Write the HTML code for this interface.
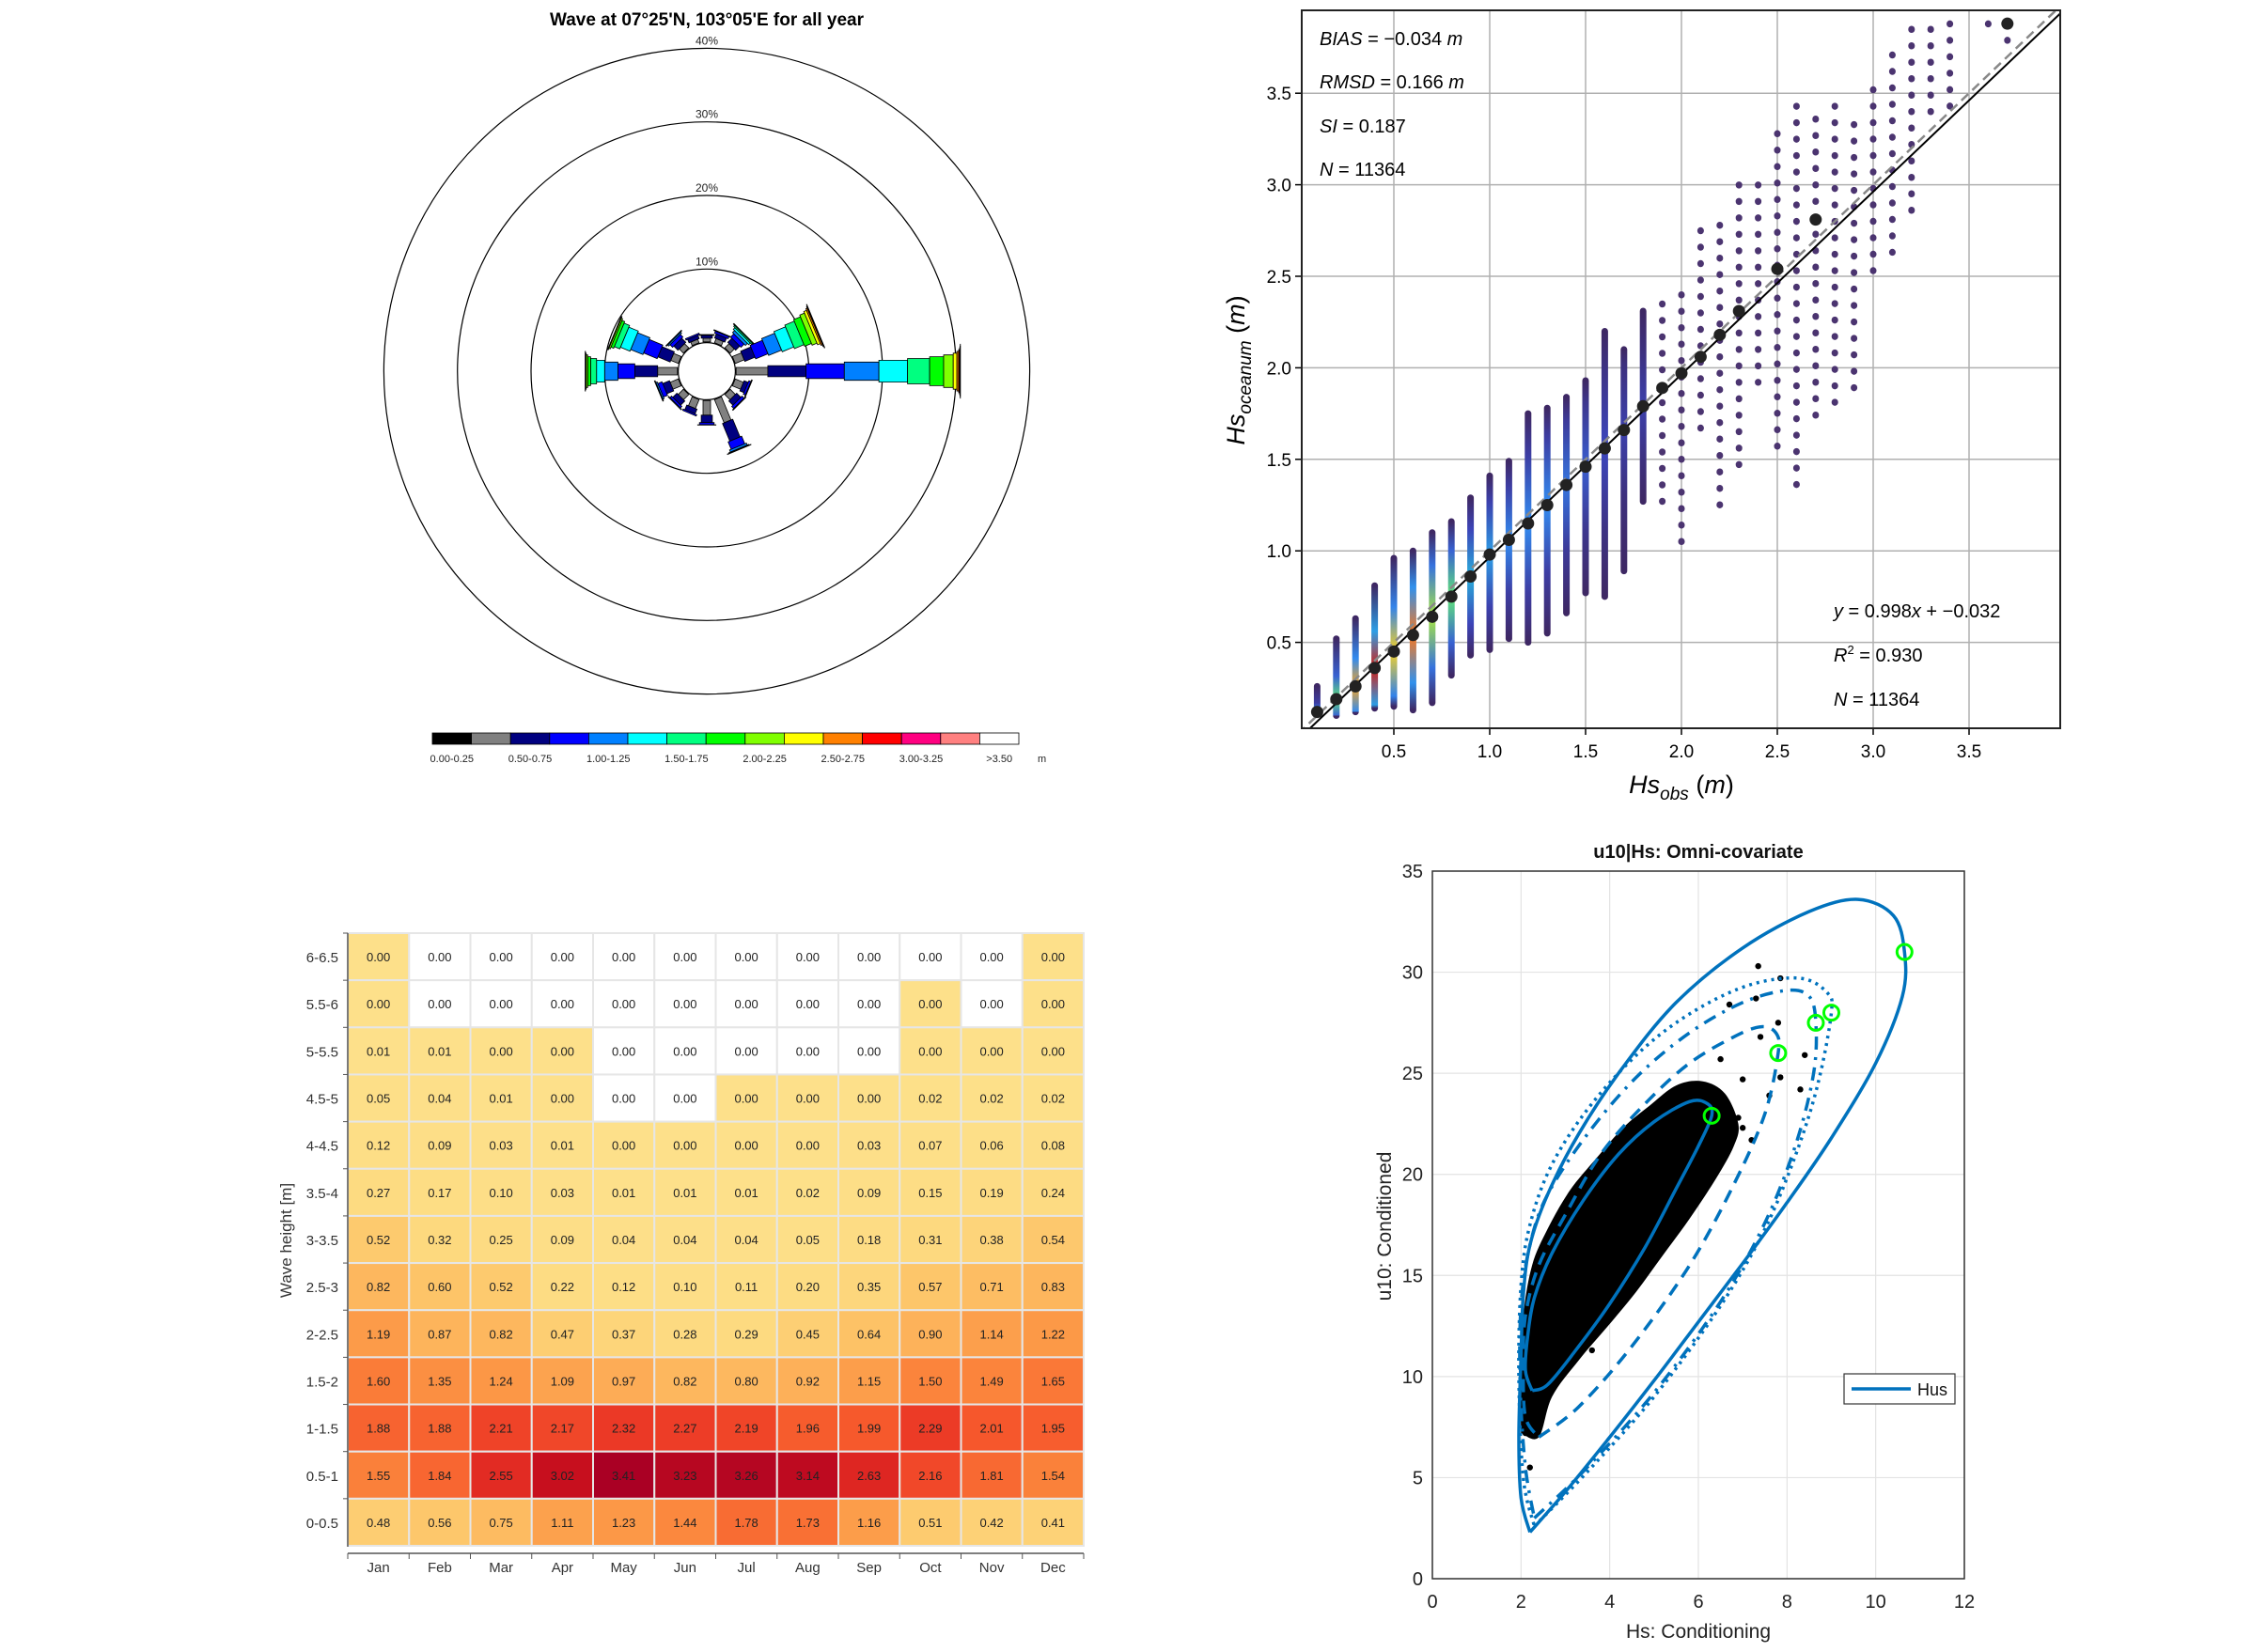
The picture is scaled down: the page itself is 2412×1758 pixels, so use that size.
<!DOCTYPE html>
<html><head><meta charset="utf-8">
<style>
html,body{margin:0;padding:0;background:#fff;}
svg{display:block;font-family:"Liberation Sans",sans-serif;}
</style></head>
<body>
<svg id="root" width="2412" height="1758" viewBox="0 0 2412 1758" xmlns="http://www.w3.org/2000/svg">
<rect x="0" y="0" width="2412" height="1758" fill="#fff"/>
</svg>
<script>
// ===== Wave rose data =====
const roseDirs = [0,22.5,45,67.5,90,112.5,135,157.5,180,202.5,225,247.5,270,292.5,315,337.5];
const roseClassLabels = ["0.00-0.25","0.25-0.50","0.50-0.75","0.75-1.00","1.00-1.25","1.25-1.50","1.50-1.75","1.75-2.00","2.00-2.25","2.25-2.50","2.50-2.75","2.75-3.00","3.00-3.25","3.25-3.50",">3.50"];
const roseColors = ['#000000','#808080','#000080','#0000ff','#0080ff','#00ffff','#00ff80','#00ff00','#80ff00','#ffff00','#ff8000','#ff0000','#ff0080','#ff8080','#ffffff'];
const roseN   = [0.1,0.5,0.4,0.1];
const roseNNE = [0.1,0.6,0.6,0.3,0.1];
const roseNE  = [0.1,0.8,0.8,0.6,0.4,0.3,0.2,0.1];
const roseENE = [0.1,1.3,1.5,1.8,1.9,1.7,1.4,1.0,0.7,0.4,0.2,0.1,0.05];
const roseE   = [0.1,4.3,5.2,5.2,4.7,3.9,3.0,1.9,1.3,0.5,0.25,0.12,0.06,0.03,0.02];
const roseESE = [0.1,1.2,0.6,0.3,0.1];
const roseSE  = [0.1,1.0,0.8,0.4,0.1];
const roseSSE = [0.1,3.4,2.6,1.1,0.3,0.1,0.05];
const roseS   = [0.1,2.0,1.0,0.3,0.05];
const roseSSW = [0.1,1.3,0.7,0.2];
const roseSW  = [0.1,1.0,0.8,0.3,0.1];
const roseWSW = [0.1,1.2,1.0,0.6,0.2,0.1];
const roseW   = [0.1,2.7,3.1,2.3,1.8,1.1,0.8,0.4,0.2,0.1,0.05];
const roseWNW = [0.1,1.1,1.8,2.0,1.8,1.4,0.8,0.4,0.2,0.1];
const roseNW  = [0.1,0.8,0.8,0.5,0.2,0.1];
const roseNNW = [0.1,0.5,0.5,0.2];
const roseRings = [10,20,30,40];

// ===== Scatter (Hs obs vs oceanum) data =====
const scX    = [0.1,0.2,0.3,0.4,0.5,0.6,0.7,0.8,0.9,1.0,1.1,1.2,1.3,1.4,1.5,1.6,1.7,1.8,1.9,2.0,2.1,2.2,2.3,2.4,2.5,2.6,2.7,2.8,2.9,3.0,3.1,3.2,3.3,3.4,3.6,3.7];
const scLo   = [0.12,0.10,0.12,0.14,0.15,0.13,0.17,0.32,0.43,0.46,0.52,0.50,0.55,0.66,0.77,0.75,0.89,1.27,1.21,1.03,1.62,1.18,1.40,1.92,1.51,1.34,1.67,1.75,1.89,2.51,2.63,2.79,3.34,3.37,3.87,3.78];
const scHi   = [0.26,0.52,0.63,0.81,0.96,1.00,1.10,1.16,1.29,1.41,1.49,1.75,1.78,1.84,1.93,2.20,2.10,2.31,2.35,2.40,2.75,2.78,3.00,3.00,3.28,3.43,3.36,3.43,3.33,3.52,3.71,3.85,3.85,3.88,3.88,3.88];
const scMean = [0.12,0.19,0.26,0.36,0.45,0.54,0.64,0.75,0.86,0.98,1.06,1.15,1.25,1.36,1.46,1.56,1.66,1.79,1.89,1.97,2.06,2.18,2.31,null,2.54,null,2.81,null,null,null,null,null,null,null,null,3.88];
const scDens = [0.3,0.6,0.85,1.0,0.8,0.9,0.7,0.6,0.4,0.35,0.3,0.3,0.3,0.25,0.2,0.15,0.12,0.12,0.1,0.1,0.08,0.08,0.06,0.05,0.04,0.03,0.03,0.03,0.02,0.02,0.02,0.02,0.02,0.02,0.02,0.02];
const scXTicks = [0.5,1.0,1.5,2.0,2.5,3.0,3.5];
const scYTicks = [0.5,1.0,1.5,2.0,2.5,3.0,3.5];
const fitSlope = 0.998, fitIntercept = -0.032;

// ===== Heatmap data =====
const hmMonths = ["Jan","Feb","Mar","Apr","May","Jun","Jul","Aug","Sep","Oct","Nov","Dec"];
const hmRows = ["6-6.5","5.5-6","5-5.5","4.5-5","4-4.5","3.5-4","3-3.5","2.5-3","2-2.5","1.5-2","1-1.5","0.5-1","0-0.5"];
const hmVals = [
 [0.00,0.00,0.00,0.00,0.00,0.00,0.00,0.00,0.00,0.00,0.00,0.00],
 [0.00,0.00,0.00,0.00,0.00,0.00,0.00,0.00,0.00,0.00,0.00,0.00],
 [0.01,0.01,0.00,0.00,0.00,0.00,0.00,0.00,0.00,0.00,0.00,0.00],
 [0.05,0.04,0.01,0.00,0.00,0.00,0.00,0.00,0.00,0.02,0.02,0.02],
 [0.12,0.09,0.03,0.01,0.00,0.00,0.00,0.00,0.03,0.07,0.06,0.08],
 [0.27,0.17,0.10,0.03,0.01,0.01,0.01,0.02,0.09,0.15,0.19,0.24],
 [0.52,0.32,0.25,0.09,0.04,0.04,0.04,0.05,0.18,0.31,0.38,0.54],
 [0.82,0.60,0.52,0.22,0.12,0.10,0.11,0.20,0.35,0.57,0.71,0.83],
 [1.19,0.87,0.82,0.47,0.37,0.28,0.29,0.45,0.64,0.90,1.14,1.22],
 [1.60,1.35,1.24,1.09,0.97,0.82,0.80,0.92,1.15,1.50,1.49,1.65],
 [1.88,1.88,2.21,2.17,2.32,2.27,2.19,1.96,1.99,2.29,2.01,1.95],
 [1.55,1.84,2.55,3.02,3.41,3.23,3.26,3.14,2.63,2.16,1.81,1.54],
 [0.48,0.56,0.75,1.11,1.23,1.44,1.78,1.73,1.16,0.51,0.42,0.41]];
const hmHas = [
 [1,0,0,0,0,0,0,0,0,0,0,1],
 [1,0,0,0,0,0,0,0,0,1,0,1],
 [1,1,1,1,0,0,0,0,0,1,1,1],
 [1,1,1,1,0,0,1,1,1,1,1,1],
 [1,1,1,1,1,1,1,1,1,1,1,1],[1,1,1,1,1,1,1,1,1,1,1,1],[1,1,1,1,1,1,1,1,1,1,1,1],
 [1,1,1,1,1,1,1,1,1,1,1,1],[1,1,1,1,1,1,1,1,1,1,1,1],[1,1,1,1,1,1,1,1,1,1,1,1],
 [1,1,1,1,1,1,1,1,1,1,1,1],[1,1,1,1,1,1,1,1,1,1,1,1],[1,1,1,1,1,1,1,1,1,1,1,1]];

// ===== Contour chart data =====
const ctXTicks = [0,2,4,6,8,10,12];
const ctYTicks = [0,5,10,15,20,25,30,35];
const ctOuterHs  = [2.2,3.0,4.0,5.0,6.0,7.0,8.0,9.0,10.0,10.6,10.65,10.4,9.6,8.5,7.0,5.5,4.3,3.3,2.6,2.2,2.05,2.0,1.95,2.0,2.2];
const ctOuterU   = [2.3,4.3,7.0,9.8,12.7,15.6,18.6,21.8,25.5,28.8,31.0,32.8,33.6,33.0,31.2,28.5,25.3,22.0,19.0,16.5,14.0,11.0,7.0,4.0,2.3];
const ctInnerHs  = [2.25,2.6,3.2,4.0,4.8,5.5,6.0,6.3,6.2,5.8,5.0,4.2,3.4,2.7,2.3,2.15,2.1,2.25];
const ctInnerU   = [9.3,9.6,11.2,13.6,16.4,19.3,21.4,22.9,23.5,23.6,22.6,21.0,18.7,16.1,13.9,12.0,10.3,9.3];
const ctDotHs    = [2.3,3.5,5.0,6.5,7.5,8.2,8.7,9.0,8.9,8.3,7.2,6.0,4.8,3.6,2.7,2.2,2.0,1.95,2.05,2.3];
const ctDotU     = [2.6,5.3,9.0,13.5,17.3,21.0,24.5,28.0,29.0,29.7,29.4,28.2,26.3,23.5,20.5,17.5,14.5,10.0,5.0,2.6];
const ctDashHs   = [2.3,3.4,5.0,6.5,7.5,8.2,8.6,8.65,8.5,8.0,7.0,5.8,4.6,3.5,2.6,2.2,2.0,1.98,2.1,2.3];
const ctDashU    = [3.0,5.3,9.2,13.7,17.6,21.5,25.0,27.5,28.8,29.1,28.5,27.0,24.8,22.0,19.0,16.5,13.5,9.5,5.5,3.0];
const ctDash2Hs  = [2.4,3.3,4.5,5.8,6.8,7.5,7.8,7.75,7.4,6.8,5.8,4.8,3.8,3.0,2.4,2.1,2.05,2.1,2.4];
const ctDash2U   = [7.0,8.5,11.5,15.5,19.5,23.0,26.0,27.0,27.3,26.8,25.5,23.5,21.0,18.0,15.5,13.0,10.5,8.0,7.0];
const ctMarkHs   = [6.3,7.8,8.65,9.0,10.65];
const ctMarkU    = [22.9,26.0,27.5,28.0,31.0];
const ctCloudHs  = [2.0,2.4,2.7,3.3,4.0,4.6,5.2,5.8,6.4,6.8,6.9,6.6,6.1,5.5,4.9,4.3,3.7,3.1,2.6,2.25,2.05,1.98];
const ctCloudU   = [7.2,7.0,9.0,10.8,12.6,14.2,16.0,17.8,19.8,21.4,22.5,24.0,24.6,24.4,23.4,22.3,20.8,19.2,17.3,15.5,13.0,10.0];
const ctOutHs    = [7.35,7.85,7.3,6.7,7.4,7.8,8.4,8.3,7.6,7.0,6.9,6.4,6.3,7.2,7.85,2.2,2.4,3.6,2.5,2.1,7.0,6.5];
const ctOutU     = [30.3,29.7,28.7,28.4,26.8,27.5,25.9,24.2,23.9,24.7,22.8,21.5,19.8,21.7,24.8,5.5,8.3,11.3,9.0,7.2,22.3,25.7];

const NS = "http://www.w3.org/2000/svg";
const root = document.getElementById('root');
function mk(tag, attrs, parent){
  const e = document.createElementNS(NS, tag);
  for (const k in attrs) e.setAttribute(k, attrs[k]);
  (parent||root).appendChild(e);
  return e;
}
function txt(x,y,s,attrs,parent){
  const t = mk('text', Object.assign({x:x,y:y},attrs), parent);
  t.textContent = s;
  return t;
}

// ================= ROSE =================
(function(){
  const g = mk('g',{});
  
  
  const cx=752, cy=395, r0=30.4, k=7.83;
  const rr = p => r0 + k*p;
  const t = txt(cx,27,"Wave at 07°25'N, 103°05'E for all year",{'text-anchor':'middle','font-size':19,'font-weight':'bold'},g);
  
  
  roseRings.forEach(p=>{
    const c = mk('circle',{cx:cx,cy:cy,r:rr(p),fill:'none',stroke:'#000','stroke-width':1.2},g);
    
    
    const l = txt(cx, cy-rr(p)-4, p+'%',{'text-anchor':'middle','font-size':12,fill:'#222'},g);
    
    
  });
  const hole = mk('circle',{cx:cx,cy:cy,r:r0,fill:'#fff',stroke:'#000','stroke-width':1.2},g);
  
  
  const sets = [roseN,roseNNE,roseNE,roseENE,roseE,roseESE,roseSE,roseSSE,roseS,roseSSW,roseSW,roseWSW,roseW,roseWNW,roseNW,roseNNW];
  roseDirs.forEach((d,i)=>{
    const a = d*Math.PI/180, ux=Math.sin(a), uy=-Math.cos(a), px=-uy, py=ux;
    let cum=0;
    sets[i].forEach((p,c)=>{
      const ra=rr(cum), rb=rr(cum+p); cum+=p;
      const w = (c===0?4:8+3.8*(c-1))/2;
      const pts=[[ra,-w],[rb,-w],[rb,w],[ra,w]].map(q=>(cx+ux*q[0]+px*q[1]).toFixed(1)+','+(cy+uy*q[0]+py*q[1]).toFixed(1)).join(' ');
      const s = mk('polygon',{points:pts,fill:roseColors[c],stroke:'#000','stroke-width':0.8},g);
      
      
    });
  });
  const x0=460, x1=1084, y0=780, h=12, sw=(x1-x0)/15;
  roseColors.forEach((col,i)=>{
    const r = mk('rect',{x:x0+i*sw,y:y0,width:sw,height:h,fill:col,stroke:'#000','stroke-width':0.8},g);
    
    
    if(i%2===0){
      const l = txt(x0+i*sw+sw/2,y0+h+19,roseClassLabels[i],{'text-anchor':'middle','font-size':11,fill:'#222'},g);
      
      
    }
  });
  const m = txt(x1+20,y0+h+19,'m',{'font-size':11,fill:'#222'},g);
  
  
})();

// ================= SCATTER =================
(function(){
  const g = mk('g',{});
  
  
  const L=1385,R=2192,T=11,B=775;
  const xs = v => 1381 + 204*v;
  const ys = v => 781 - 194.8*v;
  const defs = mk('defs',{},g);
  const clip = mk('clipPath',{id:'scClip'},defs);
  mk('rect',{x:L,y:T,width:R-L,height:B-T},clip);
  scXTicks.forEach(v=>{
    const l = mk('line',{x1:xs(v),x2:xs(v),y1:T,y2:B,stroke:'#b0b0b0','stroke-width':1.5},g);
    
    
    mk('line',{x1:xs(v),x2:xs(v),y1:B,y2:B+7,stroke:'#000','stroke-width':1.5},g);
    const t = txt(xs(v),806,v.toFixed(1),{'text-anchor':'middle','font-size':19},g);
    
    
  });
  scYTicks.forEach(v=>{
    const l = mk('line',{x1:L,x2:R,y1:ys(v),y2:ys(v),stroke:'#b0b0b0','stroke-width':1.5},g);
    
    
    mk('line',{x1:L-7,x2:L,y1:ys(v),y2:ys(v),stroke:'#000','stroke-width':1.5},g);
    const t = txt(L-11,ys(v)+7,v.toFixed(1),{'text-anchor':'end','font-size':19},g);
    
    
  });
  const pg = mk('g',{'clip-path':'url(#scClip)'},g);
  const stops=[[0,[62,40,100]],[0.15,[60,70,190]],[0.3,[50,140,240]],[0.5,[30,210,200]],[0.65,[130,240,80]],[0.8,[245,210,40]],[0.9,[250,120,30]],[1,[210,30,20]]];
  function cmap(v){
    for(let i=1;i<stops.length;i++){ if(v<=stops[i][0]){const a=stops[i-1],b=stops[i],f=(v-a[0])/(b[0]-a[0]);return 'rgb('+a[1].map((c,j)=>Math.round(c+(b[1][j]-c)*f)).join(',')+')';}}
    return 'rgb(210,30,20)';
  }
  scX.forEach((x,i)=>{
    const id='scg'+i;
    const mean = scMean[i]!==null?scMean[i]:(scLo[i]+scHi[i])/2;
    const lg = mk('linearGradient',{id:id,x1:0,y1:ys(scHi[i]),x2:0,y2:ys(scLo[i]),gradientUnits:'userSpaceOnUse'},defs);
    const span = Math.max(scHi[i]-scLo[i],0.001);
    const mo = Math.min(0.95,Math.max(0.05,(scHi[i]-mean)/span));
    mk('stop',{offset:0,'stop-color':cmap(0)},lg);
    mk('stop',{offset:Math.max(0,mo-0.3),'stop-color':cmap(scDens[i]*0.35)},lg);
    mk('stop',{offset:mo,'stop-color':cmap(scDens[i])},lg);
    mk('stop',{offset:Math.min(1,mo+0.3),'stop-color':cmap(scDens[i]*0.35)},lg);
    mk('stop',{offset:1,'stop-color':cmap(0)},lg);
    const attrs = {x1:xs(x),x2:xs(x)+0.01,y1:ys(scHi[i]),y2:ys(scLo[i]),stroke:'url(#'+id+')','stroke-width':7,'stroke-linecap':'round'};
    if(scDens[i]<0.12){attrs['stroke-dasharray']='0.5 17';attrs.stroke='#4b3470';}
    const l = mk('line',attrs,pg);
    
    
  });
  const d = mk('line',{x1:xs(0),y1:ys(0),x2:xs(4),y2:ys(4),stroke:'#888','stroke-width':2.5,'stroke-dasharray':'10 6'},pg);
  
  
  const f = mk('line',{x1:xs(0),y1:ys(fitIntercept),x2:xs(4),y2:ys(fitSlope*4+fitIntercept),stroke:'#000','stroke-width':2},pg);
  
  
  scX.forEach((x,i)=>{
    if(scMean[i]===null) return;
    const c = mk('circle',{cx:xs(x),cy:ys(scMean[i]),r:6.5,fill:'#222'},pg);
    
    
  });
  const box = mk('rect',{x:L,y:T,width:R-L,height:B-T,fill:'none',stroke:'#222','stroke-width':2},g);
  
  
  const stats = [["BIAS"," = −0.034 ","m"],["RMSD"," = 0.166 ","m"],["SI"," = 0.187",""],["N"," = 11364",""]];
  [41,87,134,180].forEach((y,i)=>{
    const t = mk('text',{x:1404,y:y+7,'font-size':20},g);
    
    
    const a = mk('tspan',{'font-style':'italic'},t); a.textContent=stats[i][0];
    const b = mk('tspan',{},t); b.textContent=stats[i][1];
    const c = mk('tspan',{'font-style':'italic'},t); c.textContent=stats[i][2];
  });
  const fitT = mk('text',{x:1951,y:657,'font-size':20},g);
  
  
  fitT.innerHTML='<tspan font-style="italic">y</tspan> = 0.998<tspan font-style="italic">x</tspan> + −0.032';
  const r2 = mk('text',{x:1951,y:704,'font-size':20},g);
  
  
  r2.innerHTML='<tspan font-style="italic">R</tspan><tspan font-size="13" dy="-8">2</tspan><tspan dy="8"> = 0.930</tspan>';
  const n2 = mk('text',{x:1951,y:751,'font-size':20},g);
  
  
  n2.innerHTML='<tspan font-style="italic">N</tspan> = 11364';
  const xl = mk('text',{x:1789,y:844,'text-anchor':'middle','font-size':27},g);
  
  
  xl.innerHTML='<tspan font-style="italic">Hs</tspan><tspan font-style="italic" font-size="19" dy="7">obs</tspan><tspan dy="-7"> (</tspan><tspan font-style="italic">m</tspan>)';
  const yl = mk('text',{x:0,y:0,'text-anchor':'middle','font-size':27,transform:'translate(1324,394) rotate(-90)'},g);
  
  
  yl.innerHTML='<tspan font-style="italic">Hs</tspan><tspan font-style="italic" font-size="19" dy="7">oceanum</tspan><tspan dy="-7"> (</tspan><tspan font-style="italic">m</tspan>)';
})();

// ================= HEATMAP =================
(function(){
  const g = mk('g',{});
  
  
  const L=370,R=1153,T=993,B=1645;
  const cw=(R-L)/12, ch=(B-T)/13;
  const cs=[[0,[253,224,138]],[0.3,[253,218,128]],[0.6,[253,196,104]],[0.9,[253,178,90]],[1.2,[252,154,72]],[1.6,[250,124,56]],[2.0,[246,88,44]],[2.3,[236,58,38]],[2.6,[224,40,34]],[3.0,[200,16,30]],[3.4,[170,0,36]]];
  function col(v){
    for(let i=1;i<cs.length;i++){ if(v<=cs[i][0]){const a=cs[i-1],b=cs[i],f=(v-a[0])/(b[0]-a[0]);return 'rgb('+a[1].map((c,j)=>Math.round(c+(b[1][j]-c)*f)).join(',')+')';}}
    return 'rgb(170,0,36)';
  }
  hmVals.forEach((row,r)=>{
    row.forEach((v,c)=>{
      const rect = mk('rect',{x:L+c*cw,y:T+r*ch,width:cw,height:ch,fill:hmHas[r][c]?col(v):'#ffffff',stroke:'#e6e6e6','stroke-width':2},g);
      
      
      const t = txt(L+c*cw+cw/2,T+r*ch+ch/2+5,v.toFixed(2),{'text-anchor':'middle','font-size':13,fill:'#222'},g);
      
      
    });
    const lab = txt(L-10,T+r*ch+ch/2+6,hmRows[r],{'text-anchor':'end','font-size':15,fill:'#333'},g);
    
    
    mk('line',{x1:L-5,x2:L,y1:T+r*ch,y2:T+r*ch,stroke:'#555'},g);
  });
  mk('line',{x1:L,x2:L,y1:T,y2:B+1,stroke:'#555','stroke-width':1.5},g);
  mk('line',{x1:L,x2:R,y1:B+8,y2:B+8,stroke:'#555','stroke-width':1.5},g);
  hmMonths.forEach((m,c)=>{
    mk('line',{x1:L+c*cw,x2:L+c*cw,y1:B+8,y2:B+14,stroke:'#555'},g);
    const t = txt(L+c*cw+cw/2,B+28,m,{'text-anchor':'middle','font-size':15,fill:'#333'},g);
    
    
  });
  mk('line',{x1:R,x2:R,y1:B+8,y2:B+14,stroke:'#555'},g);
  const yt = txt(0,0,'Wave height [m]',{'text-anchor':'middle','font-size':17,fill:'#333',transform:'translate(310,1320) rotate(-90)'},g);
  
  
})();

// ================= CONTOUR =================
(function(){
  const g = mk('g',{});
  
  
  const L=1524,R=2090,T=927,B=1680;
  const xs = v => L + (R-L)*v/12;
  const ys = v => B - (B-T)*v/35;
  const tt = txt((L+R)/2,913,'u10|Hs: Omni-covariate',{'text-anchor':'middle','font-size':20,'font-weight':'bold','fill':'#111'},g);
  
  
  mk('rect',{x:L,y:T,width:R-L,height:B-T,fill:'#fff'},g);
  ctXTicks.forEach(v=>{
    const l = mk('line',{x1:xs(v),x2:xs(v),y1:T,y2:B,stroke:'#e3e3e3','stroke-width':1.2},g);
    
    
    const t = txt(xs(v),1711,String(v),{'text-anchor':'middle','font-size':20,fill:'#222'},g);
    
    
  });
  ctYTicks.forEach(v=>{
    const l = mk('line',{x1:L,x2:R,y1:ys(v),y2:ys(v),stroke:'#e3e3e3','stroke-width':1.2},g);
    
    
    const t = txt(1514,ys(v)+7,String(v),{'text-anchor':'end','font-size':20,fill:'#222'},g);
    
    
  });
  function smooth(hx,uy,closed){
    const p = hx.map((h,i)=>[xs(h),ys(uy[i])]);
    let d='M'+p[0][0].toFixed(1)+','+p[0][1].toFixed(1);
    for(let i=0;i<p.length-1;i++){
      const p0=p[Math.max(0,i-1)],p1=p[i],p2=p[i+1],p3=p[Math.min(p.length-1,i+2)];
      const c1=[p1[0]+(p2[0]-p0[0])/6,p1[1]+(p2[1]-p0[1])/6], c2=[p2[0]-(p3[0]-p1[0])/6,p2[1]-(p3[1]-p1[1])/6];
      d+=' C'+c1.map(v=>v.toFixed(1)).join(',')+' '+c2.map(v=>v.toFixed(1)).join(',')+' '+p2[0].toFixed(1)+','+p2[1].toFixed(1);
    }
    return d+(closed?' Z':'');
  }
  const cloud = mk('path',{d:smooth(ctCloudHs,ctCloudU,true),fill:'#000'},g);
  
  
  ctOutHs.forEach((h,i)=>{
    const c = mk('circle',{cx:xs(h),cy:ys(ctOutU[i]),r:3.2,fill:'#000'},g);
    
    
  });
  const blue='#0072bd';
  const c1 = mk('path',{d:smooth(ctOuterHs,ctOuterU,false),fill:'none',stroke:blue,'stroke-width':3.5},g);
  
  
  const c2 = mk('path',{d:smooth(ctInnerHs,ctInnerU,false),fill:'none',stroke:blue,'stroke-width':3.5},g);
  
  
  const c3 = mk('path',{d:smooth(ctDotHs,ctDotU,false),fill:'none',stroke:blue,'stroke-width':3.5,'stroke-dasharray':'3 5'},g);
  
  
  const c4 = mk('path',{d:smooth(ctDashHs,ctDashU,false),fill:'none',stroke:blue,'stroke-width':3.5,'stroke-dasharray':'14 8 3 8'},g);
  
  
  const c5 = mk('path',{d:smooth(ctDash2Hs,ctDash2U,false),fill:'none',stroke:blue,'stroke-width':3.5,'stroke-dasharray':'14 9'},g);
  
  
  ctMarkHs.forEach((h,i)=>{
    const c = mk('circle',{cx:xs(h),cy:ys(ctMarkU[i]),r:8,fill:'none',stroke:'#00ff00','stroke-width':3},g);
    
    
  });
  const fr = mk('rect',{x:L,y:T,width:R-L,height:B-T,fill:'none',stroke:'#333','stroke-width':1.5},g);
  
  
  const lg = mk('g',{},g);
  
  
  mk('rect',{x:1962,y:1462,width:118,height:32,fill:'#fff',stroke:'#333','stroke-width':1.2},lg);
  mk('line',{x1:1970,x2:2033,y1:1478,y2:1478,stroke:blue,'stroke-width':3.5},lg);
  const lt = txt(2040,1485,'Hus',{'font-size':18,fill:'#111'},lg);
  
  
  const xl = txt((L+R)/2,1743,'Hs: Conditioning',{'text-anchor':'middle','font-size':21,fill:'#222'},g);
  
  
  const yl = txt(0,0,'u10: Conditioned',{'text-anchor':'middle','font-size':21,fill:'#222',transform:'translate(1480,1305) rotate(-90)'},g);
  
  
})();
</script>
</body></html>
